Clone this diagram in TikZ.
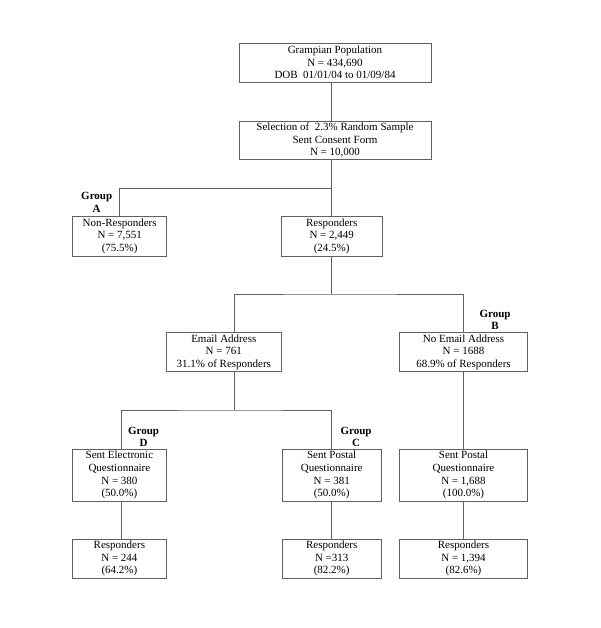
\documentclass[tikz,border=0pt]{standalone}
\usepackage{fontspec}
\setmainfont{Liberation Serif}
\begin{document}
\begin{tikzpicture}[x=1pt,y=-1pt,
  box/.style={draw=black!62, line width=0.8pt, align=center, inner sep=0pt,
    font=\fontsize{11}{12.6}\selectfont},
  grp/.style={align=center, inner sep=0pt, font=\fontsize{11}{12.6}\selectfont\bfseries},
  conn/.style={draw=black!62, line width=0.8pt}]
\useasboundingbox[fill=white] (0,0) rectangle (600,628);
% boxes
\node[box, minimum width=192, minimum height=39] (pop) at (335,62.5)
  {Grampian Population\\N = 434,690\\DOB\ \ 01/01/04 to 01/09/84};
\node[box, minimum width=192, minimum height=38] (sel) at (335,140)
  {Selection of\ \ 2.3\% Random Sample\\Sent Consent Form\\N = 10,000};
\node[box, minimum width=94, minimum height=40] (nonr) at (119.7,236)
  {Non-Responders\\N = 7,551\\(75.5\%)};
\node[box, minimum width=100.4, minimum height=40] (resp) at (331.7,236)
  {Responders\\N = 2,449\\(24.5\%)};
\node[box, minimum width=115.7, minimum height=39] (email) at (223.8,352.2)
  {Email Address\\N = 761\\31.1\% of Responders};
\node[box, minimum width=127.3, minimum height=39] (noemail) at (463.5,352.2)
  {No Email Address\\N = 1688\\68.9\% of Responders};
\node[box, minimum width=93.3, minimum height=51.7] (elec) at (119.4,475.2)
  {Sent Electronic\\Questionnaire\\N = 380\\(50.0\%)};
\node[box, minimum width=99, minimum height=51.7] (postc) at (331.7,475.2)
  {Sent Postal\\Questionnaire\\N = 381\\(50.0\%)};
\node[box, minimum width=127.5, minimum height=51.7] (postb) at (463.5,475.2)
  {Sent Postal\\Questionnaire\\N = 1,688\\(100.0\%)};
\node[box, minimum width=93.3, minimum height=39] (rd) at (119.4,558.5)
  {Responders\\N = 244\\(64.2\%)};
\node[box, minimum width=99, minimum height=39] (rc) at (331.7,558.5)
  {Responders\\N =313\\(82.2\%)};
\node[box, minimum width=127.5, minimum height=39] (rb) at (463.5,558.5)
  {Responders\\N = 1,394\\(82.6\%)};
% group labels
\node[grp] (ga) at (96.7,202.5) {Group\\A};
\node[grp] (gb) at (495,320) {Group\\B};
\node[grp] (gd) at (143.5,437) {Group\\D};
\node[grp] (gc) at (356,437) {Group\\C};
% junction coordinates
\coordinate (sp) at (331.7,0);
\coordinate (ja) at (331.7,188);
\coordinate (jb) at (331.7,294);
\coordinate (el) at (234.3,294);
\coordinate (jc) at (234.3,410);
\coordinate (xd) at (121,0);
% connectors
\draw[conn] (pop.south -| sp) -- (sel.north -| sp);
\draw[conn] (sel.south -| sp) -- (resp.north);
\draw[conn] (nonr.north) |- (ja);
\draw[conn] (resp.south) -- (jb);
\draw[conn] (email.north -| el) |- (jb) -| (noemail.north);
\draw[conn] (email.south -| el) -- (jc);
\draw[conn] (elec.north -| xd) |- (jc) -| (postc.north);
\draw[conn] (noemail.south) -- (postb.north);
\draw[conn] (elec.south -| xd) -- (rd.north -| xd);
\draw[conn] (postc.south) -- (rc.north);
\draw[conn] (postb.south) -- (rb.north);
\end{tikzpicture}
\end{document}
